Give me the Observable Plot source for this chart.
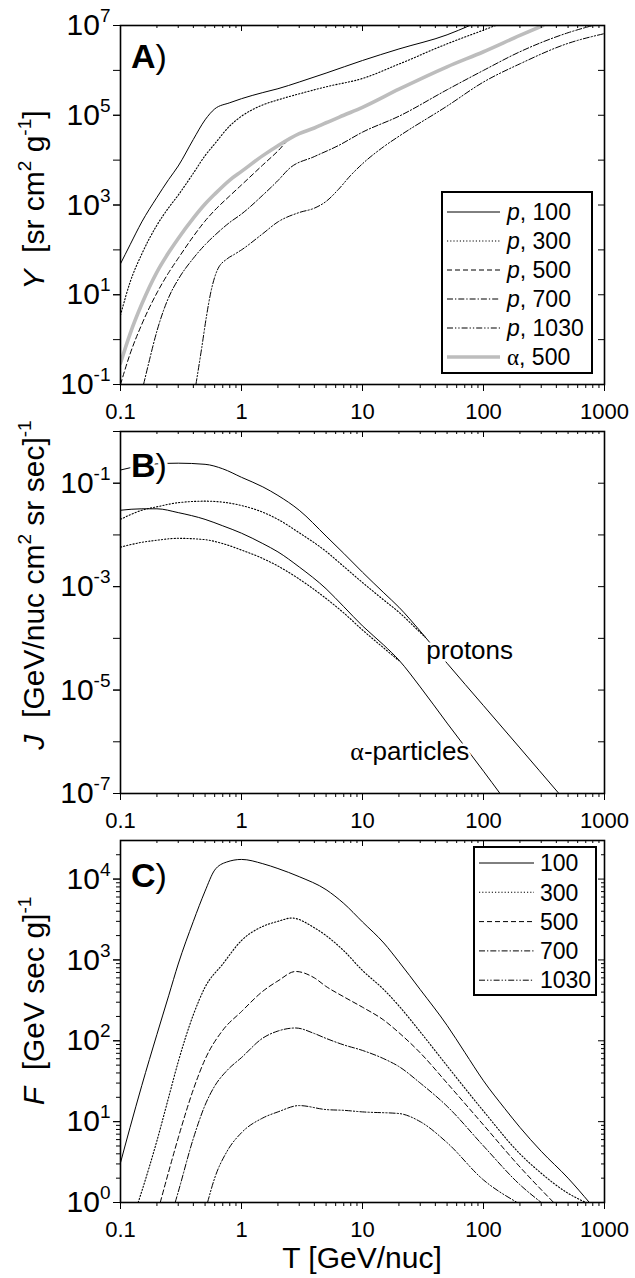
<!DOCTYPE html>
<html><head><meta charset="utf-8">
<script src="https://cdn.jsdelivr.net/npm/d3@7"></script>
<script src="https://cdn.jsdelivr.net/npm/@observablehq/plot@0.6"></script>
<style>
body{margin:0;background:#fff;}
#wrap{position:relative;width:635px;height:1278px;overflow:hidden;}
#wrap svg{position:absolute;left:0;}
</style></head><body><div id="wrap"></div>
<script>
const FONT = '"Liberation Sans", Arial, Helvetica, sans-serif';
const SERIF = '"Liberation Serif", "Times New Roman", serif';

// ---------------- axis ticks ----------------
const xMajor = [0.1, 1, 10, 100, 1000];
const xTickLabels = ["0.1", "1", "10", "100", "1000"];
const xMinor = [0.2,0.3,0.4,0.5,0.6,0.7,0.8,0.9,2,3,4,5,6,7,8,9,20,30,40,50,60,70,80,90,200,300,400,500,600,700,800,900];

const yA_major = [1e-1,1e0,1e1,1e2,1e3,1e4,1e5,1e6,1e7];
const yA_labeled = [1e-1,1e1,1e3,1e5,1e7];
const yA_exponents = ["-1","1","3","5","7"];
const yB_major = [1e-7,1e-6,1e-5,1e-4,1e-3,1e-2,1e-1,1e0];
const yB_labeled = [1e-7,1e-5,1e-3,1e-1];
const yB_exponents = ["-7","-5","-3","-1"];
const yC_major = [1,10,100,1000,10000];
const yC_exponents = ["0","1","2","3","4"];
const yC_minor = [2,3,4,5,6,7,8,9,20,30,40,50,60,70,80,90,200,300,400,500,600,700,800,900,2000,3000,4000,5000,6000,7000,8000,9000,20000];

// ---------------- panel A : Y [sr cm2 g-1] ----------------
const A_T_p100 = [0.1,0.12,0.15,0.2,0.25,0.3,0.4,0.5,0.6,0.8,1,1.5,2,3,5,10,20,50,77];
const A_Y_p100 = [49,130,420,1480,3700,7400,2.9e4,7.9e4,1.38e5,1.9e5,2.34e5,3.2e5,3.9e5,5.5e5,8.7e5,1.66e6,3.0e6,6.2e6,1e7];
const A_T_p300 = [0.1,0.12,0.15,0.2,0.25,0.3,0.4,0.5,0.6,0.8,1,1.5,2,3,5,10,20,50,100,126];
const A_Y_p300 = [3.5,19,81,355,870,1660,5100,1.26e4,2.3e4,5.8e4,9.5e4,1.7e5,2.2e5,3.0e5,4.3e5,6.6e5,1.38e6,3.9e6,7.9e6,1e7];
const A_T_p500 = [0.1,0.12,0.15,0.2,0.25,0.3,0.4,0.5,0.6,0.8,1,1.5,2,2.5,3,4,5,7,10,20,50,100,200,310];
const A_Y_p500 = [0.1,0.48,2.2,11,31,65,200,440,760,1600,2800,7800,1.6e4,3.0e4,3.9e4,5.2e4,6.8e4,1.0e5,1.5e5,3.8e5,1.2e6,2.6e6,6.0e6,1e7];
const A_T_p700 = [0.155,0.17,0.2,0.25,0.3,0.4,0.5,0.6,0.8,1,1.5,2,2.5,4,6.3,10,20,50,100,200,500,800];
const A_Y_p700 = [0.1,0.28,1.55,8.7,22,65,130,210,410,630,1660,3500,6600,1.2e4,2.1e4,4.2e4,9.5e4,3.7e5,1.0e6,2.6e6,6.9e6,1e7];
const A_T_p1030 = [0.42,0.47,0.51,0.56,0.63,0.76,0.87,1,1.5,2,3,4,5,6.3,8,10,15,20,50,100,200,500,1000];
const A_Y_p1030 = [0.1,0.68,2.95,12,35,63,79,100,230,420,680,850,1200,2200,4600,8300,2.0e4,3.4e4,1.6e5,5.5e5,1.4e6,4.0e6,6.6e6];
const A_T_a500 = [0.1,0.12,0.15,0.2,0.25,0.3,0.4,0.5,0.6,0.8,1,1.5,2,3,4,5,7,10,20,50,100,200,310];
const A_Y_a500 = [0.3,1.35,6.2,32,87,180,510,1050,1740,3600,5600,1.26e4,2.1e4,3.9e4,5.2e4,6.8e4,1.0e5,1.5e5,3.8e5,1.2e6,2.6e6,6.0e6,1e7];
const A_particles = ["p","p","p","p","p","α"];
const A_depths = ["100","300","500","700","1030","500"];

// ---------------- panel B : J [GeV/nuc cm2 sr sec]-1 ----------------
const B_T_pSolid = [0.1,0.15,0.2,0.3,0.5,0.7,1,1.5,2,3,5,7,10,15,20,30,50,100,200,420];
const B_J_pSolid = [0.18,0.22,0.237,0.244,0.232,0.19,0.13,0.085,0.058,0.030,9.5e-3,4.4e-3,1.9e-3,7.6e-4,4.0e-4,1.38e-4,3.3e-5,5.0e-6,7.6e-7,1e-7];
const B_T_pDot = [0.1,0.15,0.2,0.3,0.5,0.7,1,1.5,2,3,5,7,10,15,20,30,33];
const B_J_pDot = [0.020,0.030,0.035,0.042,0.045,0.043,0.037,0.0275,0.020,0.011,4.8e-3,2.45e-3,1.2e-3,5.5e-4,3.2e-4,1.3e-4,1.05e-4];
const B_T_aSolid = [0.1,0.15,0.2,0.3,0.5,0.7,1,1.5,2,3,5,7,10,15,20,30,50,100,137];
const B_J_aSolid = [0.030,0.032,0.032,0.027,0.020,0.015,0.0108,6.8e-3,4.7e-3,2.4e-3,9.1e-4,4.1e-4,1.74e-4,7.4e-5,3.8e-5,1.15e-5,2.3e-6,2.7e-7,1e-7];
const B_T_aDot = [0.1,0.15,0.2,0.3,0.5,0.7,1,1.5,2,3,5,7,10,15,20];
const B_J_aDot = [5.8e-3,7.2e-3,7.9e-3,8.6e-3,8.1e-3,6.8e-3,5.1e-3,3.5e-3,2.5e-3,1.4e-3,5.9e-4,3.1e-4,1.45e-4,6.5e-5,3.7e-5];
const B_annotations = ["protons", "α-particles"];
const B_annotT = [34, 8.0];
const B_annotJ = [5.9e-5, 6.6e-7];

// ---------------- panel C : F [GeV sec g]-1 ----------------
const C_T_100 = [0.1,0.12,0.15,0.2,0.25,0.3,0.4,0.5,0.6,0.75,1,1.5,2,3,5,7,10,15,20,30,50,70,100,150,200,300,500,750];
const C_F_100 = [3.1,8.5,28,120,360,890,3000,7100,1.29e4,1.62e4,1.75e4,1.55e4,1.35e4,1.07e4,7400,5000,2950,1620,950,430,155,72,32,14.5,8.5,4.3,2.0,1];
const C_T_300 = [0.14,0.15,0.2,0.25,0.3,0.4,0.5,0.7,1,1.5,2,2.6,4,5,7,10,15,20,30,50,100,200,300,500,700];
const C_F_300 = [1,1.38,5.8,20,55,210,460,890,1740,2600,3000,3300,2500,2000,1300,740,430,270,129,49,13.5,4.0,2.3,1.3,1];
const C_T_500 = [0.213,0.25,0.3,0.4,0.5,0.7,1,1.5,2,2.8,4,5,7,10,15,20,30,50,100,200,380];
const C_F_500 = [1,2.4,6.3,25,59,135,230,410,550,720,600,470,350,260,180,126,71,30,9.1,2.75,1];
const C_T_700 = [0.283,0.3,0.4,0.5,0.6,0.76,1,1.5,2,2.8,4,5,7,10,15,20,30,50,100,200,300];
const C_F_700 = [1,1.35,6.2,16,27.5,43,62,108,132,144,123,107,89,76,60,48,30,15.5,5.0,1.66,1];
const C_T_1030 = [0.524,0.6,0.76,1,1.5,2,3,5,7,10,20,30,50,100,190];
const C_F_1030 = [1,2.0,4.3,7.3,11.1,13.2,15.8,14.1,13.8,13.2,12.6,10,5.5,1.9,1];
const C_depths = ["100","300","500","700","1030"];

// ---------------- styles ----------------
const DOT = "1.2,2", DASH = "5,3", DASHDOT = "6,2,1.3,2", DASHDOTDOT = "6,2,1.3,2,1.3,2";
const depthStyles = [
  {dash: null, stroke: "black", w: 1},
  {dash: DOT, stroke: "black", w: 1.1},
  {dash: DASH, stroke: "black", w: 1},
  {dash: DASHDOT, stroke: "black", w: 1},
  {dash: DASHDOTDOT, stroke: "black", w: 1}
];
const grayStyle = {dash: null, stroke: "#bdbdbd", w: 3.6};

const rows = (T, V) => T.map((t, i) => ({T: t, V: V[i]}));
const W = 635, ML = 120, MR = 31;
const plotW = W - ML - MR;

function rich(textSel, parts, size) {
  let up = 0;
  parts.forEach(p => {
    const ts = textSel.append("tspan").text(p.t);
    const want = p.sup ? Math.round(size * 0.42) : 0;
    if (want !== up) { ts.attr("dy", up - want); up = want; }
    if (p.sup) ts.attr("font-size", Math.round(size * 0.62));
    if (p.it) ts.attr("font-style", "italic");
    if (p.bold) ts.attr("font-weight", "bold");
    if (p.serif) ts.attr("font-family", SERIF);
  });
}

function panel(cfg) {
  const plotH = cfg.height - cfg.mt - cfg.mb;
  const xLab = new Map(xMajor.map((v, i) => [v, xTickLabels[i]]));
  const yLab = new Map(cfg.yLabeled.map((v, i) => [v, cfg.yExp[i]]));
  const marks = [];
  cfg.lines.forEach(s => marks.push(Plot.line(rows(s.T, s.V), {
    x: "T", y: "V", stroke: s.style.stroke, strokeWidth: s.style.w,
    strokeDasharray: s.style.dash, curve: "monotone-x", clip: true
  })));
  marks.push(
    Plot.frame({stroke: "black", strokeWidth: 1.6}),
    Plot.axisX({ticks: xMinor, tickSize: 4, tickFormat: () => "", label: null}),
    Plot.axisX({ticks: xMajor, tickSize: 7, tickPadding: 12, tickFormat: d => xLab.get(d), fontSize: 22, label: null}),
    Plot.ruleX(xMinor, {insetBottom: plotH - 3, stroke: "black"}),
    Plot.ruleX(xMajor, {insetBottom: plotH - 6, stroke: "black"}),
    Plot.axisY({ticks: cfg.yMajor, tickSize: 7, tickFormat: () => "", label: null}),
    Plot.axisY({ticks: cfg.yLabeled, tickSize: 7, tickPadding: 3, tickFormat: d => yLab.get(d), fontSize: 30, label: null}),
    Plot.ruleY(cfg.yMajor, {insetLeft: plotW - 6, stroke: "black"})
  );
  if (cfg.yMinor) {
    marks.push(
      Plot.axisY({ticks: cfg.yMinor, tickSize: 4, tickFormat: () => "", label: null}),
      Plot.ruleY(cfg.yMinor, {insetLeft: plotW - 3, stroke: "black"})
    );
  }
  const svg = Plot.plot({
    width: W, height: cfg.height,
    marginLeft: ML, marginRight: MR, marginTop: cfg.mt, marginBottom: cfg.mb,
    style: {fontFamily: FONT, background: "none", overflow: "visible", color: "black"},
    x: {type: "log", domain: [0.1, 1000], label: null},
    y: {type: "log", domain: cfg.yDomain, label: null},
    marks
  });
  svg.style.top = cfg.top + "px";
  const s = d3.select(svg);
  // superscript exponents on y tick labels
  s.selectAll('g[aria-label="y-axis tick label"] text').each(function() {
    const e = this.textContent;
    if (!e) return;
    const t = d3.select(this);
    t.text(null);
    t.append("tspan").text("10");
    t.append("tspan").attr("dy", -13).attr("font-size", 19).text(e);
  });
  // axis title (rotated)
  const title = s.append("text")
    .attr("transform", `translate(44,${cfg.titleY}) rotate(-90)`)
    .attr("text-anchor", "middle").attr("font-size", 30)
    .attr("font-family", FONT).attr("fill", "black").style("white-space", "pre");
  rich(title, cfg.title, 30);
  // panel label
  const lab = s.append("text").attr("x", 131).attr("y", cfg.labelY)
    .attr("text-anchor", "start")
    .attr("font-size", 34).attr("font-family", FONT).attr("fill", "black")
    .attr("stroke", "white").attr("stroke-width", 6).attr("paint-order", "stroke");
  rich(lab, [{t: cfg.label, bold: true}, {t: ")"}], 34);
  document.getElementById("wrap").appendChild(svg);
  return svg;
}

function legend(svg, box, items, lx1, lx2, tx, y0, dy, fs) {
  const g = d3.select(svg).append("g");
  g.append("rect").attr("x", box[0]).attr("y", box[1]).attr("width", box[2]).attr("height", box[3])
    .attr("fill", "white").attr("stroke", "black").attr("stroke-width", 2);
  items.forEach((r, i) => {
    const y = y0 + i * dy;
    g.append("line").attr("x1", lx1).attr("x2", lx2).attr("y1", y).attr("y2", y)
      .attr("stroke", r.style.stroke).attr("stroke-width", r.style.w)
      .attr("stroke-dasharray", r.style.dash);
    const t = g.append("text").attr("x", tx).attr("y", y).attr("dy", "0.36em")
      .attr("text-anchor", "start")
      .attr("font-size", fs).attr("font-family", FONT).attr("fill", "black").style("white-space", "pre");
    rich(t, r.parts, fs);
  });
}

// ---------- Panel A ----------
const styleA = [...depthStyles, grayStyle];
const svgA = panel({
  top: 0, height: 425, mt: 25, mb: 41, yDomain: [0.1, 1e7],
  yMajor: yA_major, yLabeled: yA_labeled, yExp: yA_exponents,
  lines: [
    {T: A_T_p100, V: A_Y_p100, style: styleA[0]},
    {T: A_T_p300, V: A_Y_p300, style: styleA[1]},
    {T: A_T_p500, V: A_Y_p500, style: styleA[2]},
    {T: A_T_p700, V: A_Y_p700, style: styleA[3]},
    {T: A_T_p1030, V: A_Y_p1030, style: styleA[4]},
    {T: A_T_a500, V: A_Y_a500, style: styleA[5]}
  ],
  title: [{t: "Y", it: true}, {t: "  [sr cm"}, {t: "2", sup: true}, {t: " g"}, {t: "-1", sup: true}, {t: "]"}],
  titleY: 200, label: "A", labelY: 68
});
legend(svgA, [442, 192, 150, 181],
  A_particles.map((p, i) => ({style: styleA[i],
    parts: [p === "α" ? {t: p, serif: true} : {t: p, it: true}, {t: ", " + A_depths[i]}]})),
  447, 500, 507, 212, 29, 23);

// ---------- Panel B ----------
const svgB = panel({
  top: 425, height: 410, mt: 6, mb: 42, yDomain: [1e-7, 1],
  yMajor: yB_major, yLabeled: yB_labeled, yExp: yB_exponents,
  lines: [
    {T: B_T_pDot, V: B_J_pDot, style: depthStyles[1]},
    {T: B_T_aDot, V: B_J_aDot, style: depthStyles[1]},
    {T: B_T_pSolid, V: B_J_pSolid, style: depthStyles[0]},
    {T: B_T_aSolid, V: B_J_aSolid, style: depthStyles[0]}
  ],
  title: [{t: "J", it: true}, {t: "  [GeV/nuc cm"}, {t: "2", sup: true}, {t: " sr sec]"}, {t: "-1", sup: true}],
  titleY: 160, label: "B", labelY: 52
});
{
  const xs = svgB.scale("x"), ys = svgB.scale("y");
  B_annotations.forEach((name, i) => {
    const t = d3.select(svgB).append("text")
      .attr("x", xs.apply(B_annotT[i])).attr("y", ys.apply(B_annotJ[i])).attr("dy", "0.36em")
      .attr("text-anchor", "start")
      .attr("font-size", 26).attr("font-family", FONT).attr("fill", "black")
      .attr("stroke", "white").attr("stroke-width", 5).attr("paint-order", "stroke");
    if (name.startsWith("α")) rich(t, [{t: "α", serif: true}, {t: name.slice(1)}], 26);
    else t.text(name);
  });
}

// ---------- Panel C ----------
const svgC = panel({
  top: 835, height: 443, mt: 5, mb: 76, yDomain: [1, 3e4],
  yMajor: yC_major, yLabeled: yC_major, yExp: yC_exponents, yMinor: yC_minor,
  lines: [
    {T: C_T_100, V: C_F_100, style: depthStyles[0]},
    {T: C_T_300, V: C_F_300, style: depthStyles[1]},
    {T: C_T_500, V: C_F_500, style: depthStyles[2]},
    {T: C_T_700, V: C_F_700, style: depthStyles[3]},
    {T: C_T_1030, V: C_F_1030, style: depthStyles[4]}
  ],
  title: [{t: "F", it: true}, {t: "  [GeV sec g]"}, {t: "-1", sup: true}],
  titleY: 166, label: "C", labelY: 52
});
legend(svgC, [474, 12, 122, 148],
  C_depths.map((d, i) => ({style: depthStyles[i], parts: [{t: d}]})),
  479, 534, 540, 28, 29.3, 23);
d3.select(svgC).append("text").attr("x", 362).attr("y", 433)
  .attr("text-anchor", "middle").attr("font-size", 30).attr("font-family", FONT)
  .attr("fill", "black").style("white-space", "pre").text("T [GeV/nuc]");
</script></body></html>
